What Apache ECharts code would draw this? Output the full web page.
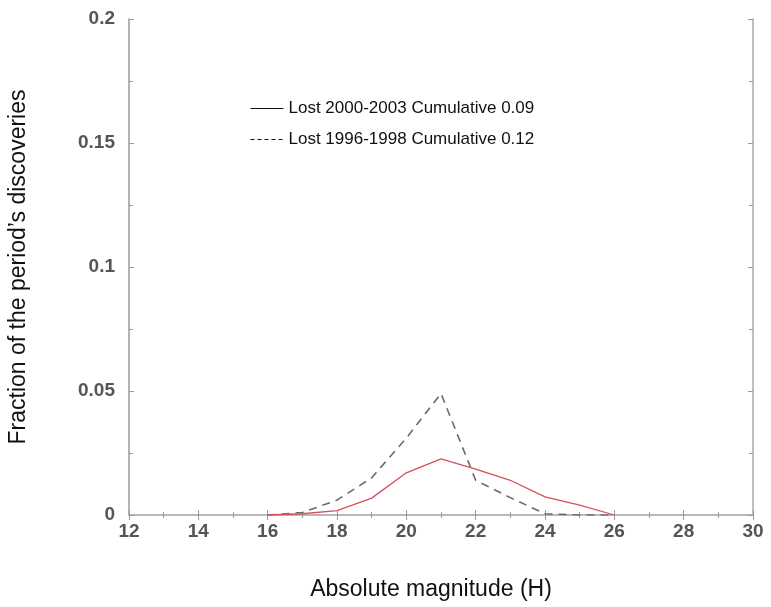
<!DOCTYPE html>
<html>
<head>
<meta charset="utf-8">
<script src="https://cdn.jsdelivr.net/npm/echarts@6/dist/echarts.min.js"></script>
<style>
  html, body { margin: 0; padding: 0; background: #fff; }
  #chart { width: 771px; height: 607px; }
</style>
</head>
<body>
<div id="chart"></div>
<script>
// absolute magnitude bins
const magnitudes = [16, 17, 18, 19, 20, 21, 22, 23, 24, 25, 26];
// fraction of the period's discoveries
const lost2000 = [0, 0.0005, 0.0018, 0.0068, 0.017, 0.0226, 0.0185, 0.014, 0.0073, 0.004, 0];
const lost1996 = [0, 0.001, 0.006, 0.015, 0.031, 0.049, 0.014, 0.007, 0.0005, 0, 0];
const seriesNames = ["Lost 2000-2003 Cumulative 0.09", "Lost 1996-1998 Cumulative 0.12"];

const chart = echarts.init(document.getElementById("chart"), null, { renderer: "canvas" });

const frameColor = "#9a9a9a";
const tickLabel = {
  fontFamily: "Liberation Sans",
  fontWeight: "bold",
  fontSize: 19,
  color: "#555",
};

function pairs(values) {
  return magnitudes.map((m, i) => [m, values[i]]);
}

const option = {
  backgroundColor: "#fff",
  animation: false,
  grid: {
    left: 129,
    right: 18,
    top: 19,
    bottom: 92,
    containLabel: false,
    outerBoundsMode: "none",
  },
  legend: {
    orient: "vertical",
    left: 245,
    top: 95,
    itemWidth: 33,
    itemHeight: 14,
    itemGap: 14,
    textStyle: { fontFamily: "Liberation Sans", fontSize: 17, color: "#111" },
    data: [
      {
        name: seriesNames[0],
        itemStyle: { opacity: 0 },
        lineStyle: { color: "#111", width: 1, type: "solid" },
      },
      {
        name: seriesNames[1],
        itemStyle: { opacity: 0 },
        lineStyle: { color: "#111", width: 1, type: [4, 3] },
      },
    ],
  },
  xAxis: [
    {
      type: "value",
      min: 12,
      max: 30,
      interval: 2,
      position: "bottom",
      name: "Absolute magnitude (H)",
      nameLocation: "middle",
      nameGap: 63,
      nameTextStyle: {
        fontFamily: "Liberation Sans",
        fontSize: 23,
        color: "#111",
        padding: [0, 20, 0, 0],
      },
      axisLine: { lineStyle: { color: frameColor, width: 1.5 } },
      axisTick: { inside: true, length: 5, lineStyle: { color: frameColor } },
      minorTick: { show: true, splitNumber: 2, length: 3, lineStyle: { color: frameColor } },
      axisLabel: Object.assign({ margin: 7 }, tickLabel),
      splitLine: { show: false },
    },
    {
      type: "value",
      min: 12,
      max: 30,
      interval: 2,
      position: "top",
      axisLine: { lineStyle: { color: "#bbb", width: 1.5 } },
      axisTick: { inside: true, length: 5, lineStyle: { color: frameColor } },
      minorTick: { show: true, splitNumber: 2, length: 3, lineStyle: { color: frameColor } },
      axisLabel: { show: false },
      splitLine: { show: false },
    },
  ],
  yAxis: [
    {
      type: "value",
      min: 0,
      max: 0.2,
      interval: 0.05,
      position: "left",
      name: "Fraction of the period\u2019s discoveries",
      nameLocation: "middle",
      nameGap: 99,
      nameTextStyle: { fontFamily: "Liberation Sans", fontSize: 23, color: "#111" },
      axisLine: { show: true, lineStyle: { color: frameColor, width: 1.5 } },
      axisTick: { inside: true, length: 5, lineStyle: { color: frameColor } },
      minorTick: { show: true, splitNumber: 2, length: 4, lineStyle: { color: frameColor } },
      axisLabel: Object.assign({ margin: 14 }, tickLabel),
      splitLine: { show: false },
    },
    {
      type: "value",
      min: 0,
      max: 0.2,
      interval: 0.05,
      position: "right",
      axisLine: { show: true, lineStyle: { color: "#aaa", width: 1.5 } },
      axisTick: { inside: true, length: 5, lineStyle: { color: frameColor } },
      minorTick: { show: true, splitNumber: 2, length: 4, lineStyle: { color: frameColor } },
      axisLabel: { show: false },
      splitLine: { show: false },
    },
  ],
  series: [
    {
      name: seriesNames[0],
      type: "line",
      data: pairs(lost2000),
      symbol: "none",
      lineStyle: { color: "#d6505a", width: 1.3 },
      itemStyle: { color: "#d6505a" },
      z: 3,
    },
    {
      name: seriesNames[1],
      type: "line",
      data: pairs(lost1996),
      symbol: "none",
      lineStyle: { color: "#6a6a6a", width: 1.6, type: [8, 6] },
      itemStyle: { color: "#6a6a6a" },
      z: 2,
    },
  ],
};

chart.setOption(option);
</script>
</body>
</html>
